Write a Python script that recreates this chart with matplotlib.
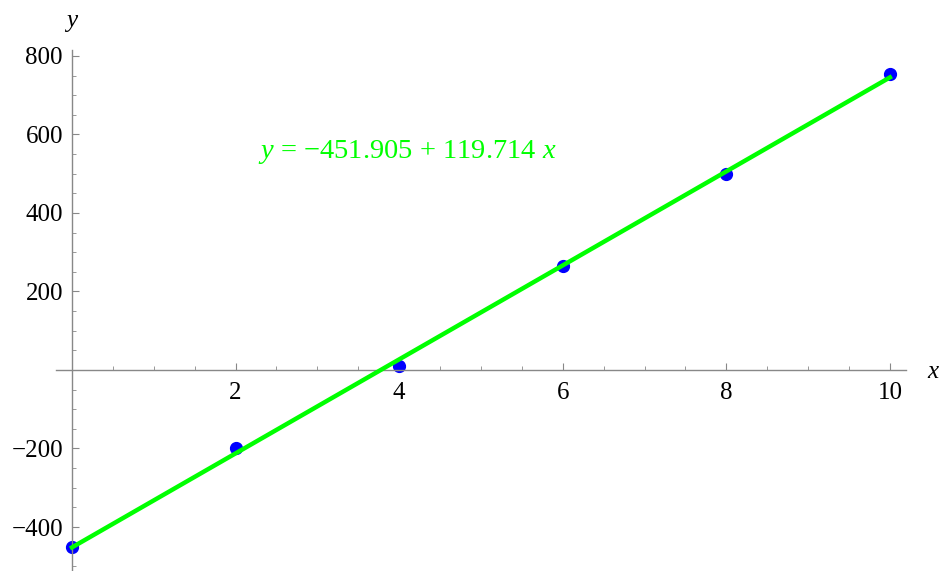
import numpy as np
import matplotlib
matplotlib.use("Agg")
import matplotlib.pyplot as plt
from matplotlib.ticker import MultipleLocator, FixedLocator

plt.rcParams['font.family'] = ['Liberation Serif', 'DejaVu Serif']
plt.rcParams['mathtext.fontset'] = 'custom'
plt.rcParams['mathtext.rm'] = 'Liberation Serif'
plt.rcParams['mathtext.it'] = 'Liberation Serif:italic'
plt.rcParams['axes.unicode_minus'] = True

x_data = [0, 2, 4, 6, 8, 10]
y_data = [-450, -200, 10, 265, 500, 755]
x_ticks = [2, 4, 6, 8, 10]
y_ticks = [-400, -200, 200, 400, 600, 800]

slope, intercept = np.polyfit(x_data, y_data, 1)

fig = plt.figure(figsize=(9.41, 5.71), dpi=100)
ax = fig.add_axes([0.0591, 0.0014, 0.904, 0.911])
ax.set_xlim(-0.2, 10.2)
ax.set_ylim(-510, 815)

xf = np.array([min(x_data), max(x_data)])
ax.plot(xf, intercept + slope * xf, color=(0, 1, 0), lw=3.2, zorder=3)
ax.plot(x_data, y_data, 'o', color=(0, 0, 1), ms=8.5, zorder=2)

eq = "$y$ = \u2212%.3f + %.3f $x$" % (-intercept, slope)
ax.text(4.1, 555, eq, color=(0, 1, 0), fontsize=20.5, ha='center', va='center')

for s in ['top', 'right']:
    ax.spines[s].set_visible(False)
ax.spines['left'].set_position(('data', 0))
ax.spines['bottom'].set_position(('data', 0))
for s in ['left', 'bottom']:
    ax.spines[s].set_color('#888888')
    ax.spines[s].set_linewidth(1.0)

ax.xaxis.set_major_locator(FixedLocator(x_ticks))
ax.xaxis.set_minor_locator(MultipleLocator(0.5))
ax.yaxis.set_major_locator(FixedLocator(y_ticks))
ax.yaxis.set_minor_locator(MultipleLocator(50))
ax.set_xticklabels([str(t) for t in x_ticks])
ax.set_yticklabels([str(t).replace('-', '\u2212') for t in y_ticks])
ax.tick_params(axis='both', which='major', direction='in', length=5, width=0.8,
               color='#888888', labelsize=18, labelcolor='black')
ax.tick_params(axis='both', which='minor', direction='in', length=3, width=0.6,
               color='#888888')
ax.tick_params(axis='x', which='major', pad=9)
ax.tick_params(axis='y', which='major', pad=6.5)

ax.text(10.52, -5, 'x', fontsize=18, style='italic', ha='center', va='center')
ax.text(0, 890, 'y', fontsize=18, style='italic', ha='center', va='center',
        clip_on=False)

fig.savefig('out.png', dpi=100)
